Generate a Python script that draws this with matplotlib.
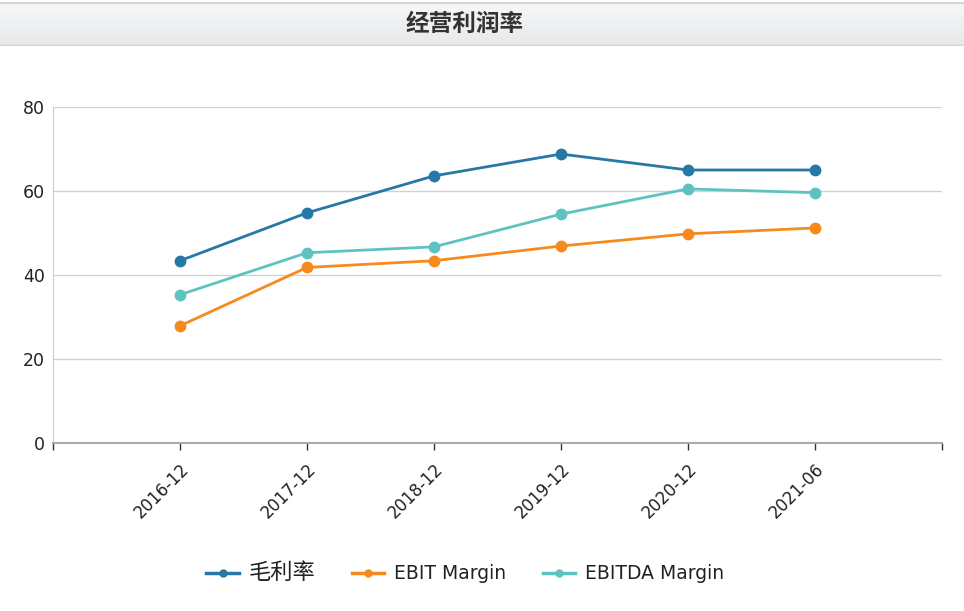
import numpy as np
import matplotlib
matplotlib.use("Agg")
import matplotlib.pyplot as plt
from matplotlib.lines import Line2D

plt.rcParams['font.family'] = ['DejaVu Sans', 'Noto Sans CJK SC']

periods = ['2016-12', '2017-12', '2018-12', '2019-12', '2020-12', '2021-06']
gross_margin = [43.4, 54.8, 63.6, 68.8, 65.0, 65.0]
ebit_margin = [27.9, 41.8, 43.4, 46.9, 49.8, 51.2]
ebitda_margin = [35.3, 45.3, 46.7, 54.5, 60.5, 59.6]

names = ['毛利率', 'EBIT Margin', 'EBITDA Margin']
colors = ['#2878a6', '#f78a1d', '#5ec3c0']

W, H = 964, 611
fig = plt.figure(figsize=(W / 100, H / 100), dpi=100)

# title bar with soft gradient
bar = fig.add_axes([0, 1 - 46 / H, 1, 44 / H])
grad = np.linspace(0, 1, 50).reshape(-1, 1)
top_c = np.array([0.968, 0.972, 0.972])
bot_c = np.array([0.905, 0.910, 0.918])
img = top_c + (bot_c - top_c) * grad[:, :, None]
bar.imshow(np.repeat(img, 2, axis=1), aspect='auto', extent=[0, 1, 0, 1])
bar.set_xlim(0, 1)
bar.set_ylim(0, 1)
bar.axhline(0.0, color='#d3d3d5', lw=2.5)
bar.axhline(1.0, color='#d6d6d6', lw=2.5)
bar.set_axis_off()
bar.text(465 / W, 0.5, '经营利润率', ha='center', va='center',
         fontsize=17, fontweight='bold', color='#333333')

ax = fig.add_axes([53 / W, 1 - 443 / H, (942 - 53) / W, (443 - 107) / H])
x = np.arange(len(periods))
for vals, c in zip([gross_margin, ebit_margin, ebitda_margin], colors):
    ax.plot(x, vals, color=c, lw=2, marker='o', markersize=7.5, zorder=3)

ax.set_xlim(-1, len(periods))
ax.set_ylim(0, 80)
ax.set_yticks([0, 20, 40, 60, 80])
ax.yaxis.grid(True, color='#d2d2d2', lw=1)
ax.set_axisbelow(True)
ax.set_xticks(np.arange(-1, len(periods) + 1))
ax.set_xticklabels([''] + periods + [''], rotation=45, ha='right',
                   rotation_mode='anchor', fontsize=12, color='#222222')
ax.tick_params(axis='x', length=5, width=1, color='#333333', pad=7)
ax.tick_params(axis='y', length=0, pad=6, labelsize=12.5, colors='#222222')
for s in ['top', 'right']:
    ax.spines[s].set_visible(False)
ax.spines['left'].set_color('#cccccc')
ax.spines['bottom'].set_color('#aaaaaa')
ax.spines['bottom'].set_linewidth(1.5)

handles = [Line2D([0], [0], color=c, lw=2.5, marker='o', markersize=5) for c in colors]
leg = fig.legend(handles, names, loc='center', ncol=3,
                 bbox_to_anchor=(465 / W, 1 - 573 / H), frameon=False,
                 fontsize=13.5, handlelength=1.75, handletextpad=0.5, columnspacing=1.95)
leg.get_texts()[0].set_fontsize(16)
for t in leg.get_texts():
    t.set_color('#222222')

fig.savefig('out.png', dpi=100)
